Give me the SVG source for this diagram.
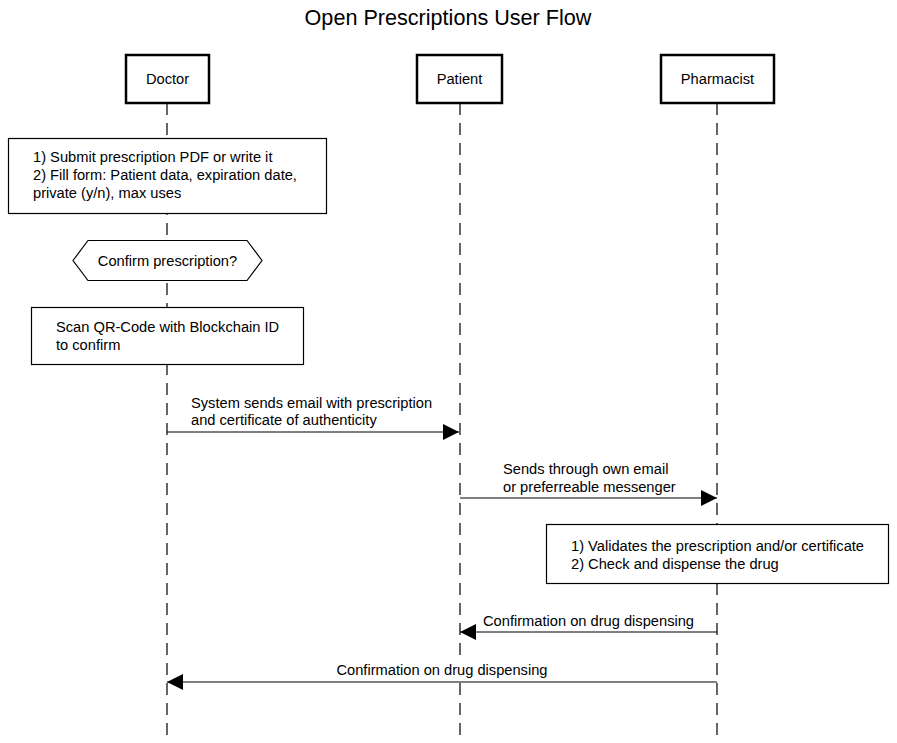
<svg xmlns="http://www.w3.org/2000/svg" width="897" height="743" viewBox="0 0 897 743">
<defs>
<style>
text{font-family:"Liberation Sans",Arial,Helvetica,sans-serif;fill:#000;font-size:14.67px}
.title{font-size:21.6px}
.actor{fill:#fff;stroke:#000;stroke-width:2.5}
.box{fill:#fff;stroke:#000;stroke-width:1.2}
.life{stroke:#000;stroke-width:1.2;stroke-dasharray:12 8;fill:none}
.msg{stroke:#000;stroke-width:1.2;fill:none;marker-end:url(#head)}
.c{text-anchor:middle}
</style>
<marker id="head" markerUnits="userSpaceOnUse" markerWidth="16" markerHeight="16" viewBox="0 0 14 14" refX="14" refY="7" orient="auto">
<path d="M0,0 L14,7 L0,14 Z" fill="#000"/>
</marker>
</defs>
<rect width="897" height="743" fill="#fff"/>
<text class="title c" x="448" y="25">Open Prescriptions User Flow</text>

<g id="lifelines">
<line class="life" x1="167" y1="103" x2="167" y2="743"/>
<line class="life" x1="460" y1="103" x2="460" y2="743"/>
<line class="life" x1="717" y1="103" x2="717" y2="743"/>
</g>

<g id="doctor">
<rect class="actor" x="126" y="55" width="83" height="48"/>
<text class="c" x="167.5" y="84">Doctor</text>
</g>
<g id="patient">
<rect class="actor" x="417" y="55" width="85" height="48"/>
<text class="c" x="459.5" y="84">Patient</text>
</g>
<g id="pharmacist">
<rect class="actor" x="661" y="55" width="113" height="48"/>
<text class="c" x="717.5" y="84">Pharmacist</text>
</g>

<g id="submit">
<rect class="box" x="8.5" y="138.5" width="318" height="75"/>
<text x="33" y="162">1) Submit prescription PDF or write it</text>
<text x="33" y="180">2) Fill form: Patient data, expiration date,</text>
<text x="33" y="198">private (y/n), max uses</text>
</g>

<g id="confirm">
<path class="box" d="M73,260.5 L88,240.5 L247,240.5 L262,260.5 L247,280.5 L88,280.5 Z"/>
<text class="c" x="167.5" y="266">Confirm prescription?</text>
</g>

<g id="scan">
<rect class="box" x="31.5" y="307.5" width="272" height="57"/>
<text x="56" y="332">Scan QR-Code with Blockchain ID</text>
<text x="56" y="350">to confirm</text>
</g>

<g id="validate">
<rect class="box" x="546.5" y="524.5" width="342" height="59"/>
<text x="571" y="551">1) Validates the prescription and/or certificate</text>
<text x="571" y="569">2) Check and dispense the drug</text>
</g>

<g id="connectors">
<line class="msg" x1="167" y1="432" x2="459" y2="432"/>
<text x="191" y="408">System sends email with prescription</text>
<text x="191" y="425">and certificate of authenticity</text>

<line class="msg" x1="460" y1="498" x2="717" y2="498"/>
<text x="503" y="474">Sends through own email</text>
<text x="503" y="492">or preferreable messenger</text>

<line class="msg" x1="717" y1="632" x2="460" y2="632"/>
<text x="483" y="626">Confirmation on drug dispensing</text>

<rect x="336" y="659" width="213" height="21" fill="#fff"/>
<line class="msg" x1="717" y1="682" x2="167" y2="682"/>
<text class="c" x="442" y="675">Confirmation on drug dispensing</text>
</g>
</svg>
